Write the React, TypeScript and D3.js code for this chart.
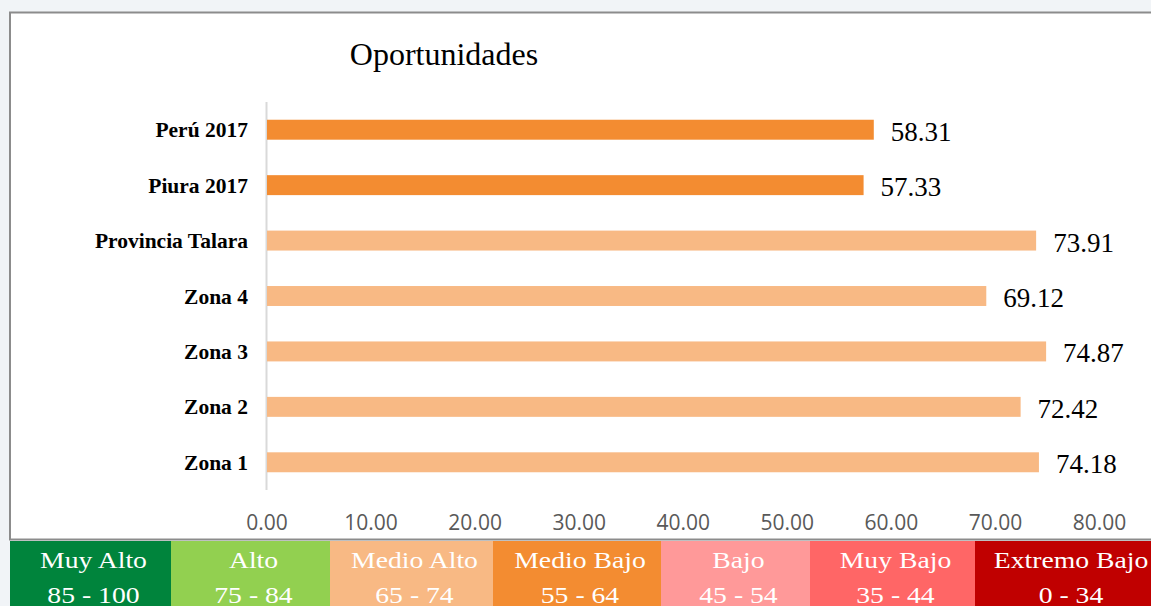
import React from "react";
import * as d3 from "d3";

const W = 1151;
const H = 606;

const categories = ["Perú 2017", "Piura 2017", "Provincia Talara", "Zona 4", "Zona 3", "Zona 2", "Zona 1"];
const values = [58.31, 57.33, 73.91, 69.12, 74.87, 72.42, 74.18];
const barColors = ["#F38C31", "#F38C31", "#F8B984", "#F8B984", "#F8B984", "#F8B984", "#F8B984"];
const xTicks = [0, 10, 20, 30, 40, 50, 60, 70, 80];

const legendNames = ["Muy Alto", "Alto", "Medio Alto", "Medio Bajo", "Bajo", "Muy Bajo", "Extremo Bajo"];
const legendRanges = ["85 - 100", "75 - 84", "65 - 74", "55 - 64", "45 - 54", "35 - 44", "0 - 34"];
const legendColors = ["#00843C", "#92D050", "#F8B984", "#F38C31", "#FF9999", "#FF6666", "#C00000"];
// cell edges along the bottom strip
const legendEdges = [10, 171, 330, 493, 661, 810, 975, 1151];

const SERIF = "'Liberation Serif', 'Times New Roman', serif";
const SANS = "'Open Sans', Carlito, sans-serif";

export default function App() {
  const x = d3.scaleLinear().domain([0, 80]).range([267, 1099.5]);
  const y = d3.scaleBand().domain(categories).range([102, 490]).paddingInner(0.64).paddingOuter(0.32);

  return (
    <svg
      width={W}
      height={H}
      viewBox={`0 0 ${W} ${H}`}
      style={{ position: "absolute", left: 0, top: 0, display: "block" }}
    >
      <rect x={0} y={0} width={W} height={H} fill="#F1F4F7" />
      <rect x={10} y={12.5} width={W + 10} height={527} fill="#fff" stroke="#8C8C8C" strokeWidth={2} />

      <text x={444} y={65} textAnchor="middle" fontFamily={SERIF} fontSize={32} fill="#000">
        Oportunidades
      </text>

      <line x1={266.5} x2={266.5} y1={102} y2={490} stroke="#D9D9D9" strokeWidth={2} />

      {categories.map((c, i) => {
        const by = y(c) as number;
        const bw = y.bandwidth();
        return (
          <g key={c}>
            <rect x={x(0)} y={by} width={x(values[i]) - x(0)} height={bw} fill={barColors[i]} />
            <text
              x={248}
              y={by + bw / 2}
              dy="0.35em"
              textAnchor="end"
              fontFamily={SERIF}
              fontWeight="bold"
              fontSize={21.5}
              fill="#000"
            >
              {c}
            </text>
            <text x={x(values[i]) + 17} y={by + bw + 1} fontFamily={SERIF} fontSize={27} fill="#000">
              {values[i].toFixed(2)}
            </text>
          </g>
        );
      })}

      {xTicks.map((t) => (
        <text key={t} x={x(t)} y={530} textAnchor="middle" fontFamily={SANS} fontSize={21} fill="#595959">
          {t.toFixed(2)}
        </text>
      ))}

      {legendNames.map((n, i) => {
        const x0 = legendEdges[i];
        const x1 = legendEdges[i + 1];
        const cx = (x0 + x1) / 2 + (i === legendNames.length - 1 ? 8 : 3);
        return (
          <g key={n}>
            <rect x={x0} y={541} width={x1 - x0} height={H - 541} fill={legendColors[i]} />
            <text
              transform={`translate(${cx},568) scale(1.22,1)`}
              textAnchor="middle"
              fontFamily={SERIF}
              fontSize={22.7}
              fill="#fff"
            >
              {n}
            </text>
            <text
              transform={`translate(${cx},603) scale(1.22,1)`}
              textAnchor="middle"
              fontFamily={SERIF}
              fontSize={22.7}
              fill="#fff"
            >
              {legendRanges[i]}
            </text>
          </g>
        );
      })}
    </svg>
  );
}
